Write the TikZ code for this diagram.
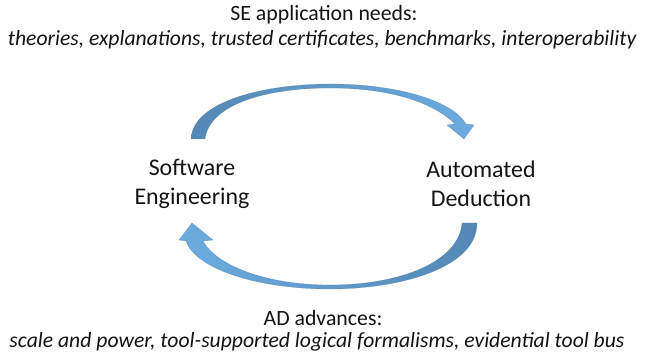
\documentclass[tikz,border=0pt]{standalone}
\usepackage{fontspec}
\setmainfont{Carlito}
\usepackage{tikz}
\usetikzlibrary{positioning}
\definecolor{ink}{RGB}{20,20,20}
\definecolor{flowdark}{RGB}{84,136,180}
\definecolor{flowlight}{RGB}{108,172,224}
\definecolor{flowedge}{RGB}{70,115,160}
\tikzset{
  field/.style={font=\fontsize{17}{20.5}\selectfont,text=ink,align=center,inner sep=0pt},
  head/.style={font=\fontsize{15.5}{18.5}\selectfont,text=ink,inner sep=0pt},
  items/.style={font=\fontsize{15.4}{18.5}\selectfont\itshape,text=ink,inner sep=0pt},
  flow/.style={draw=flowedge,line width=0.2pt,draw opacity=0.6},
}

\begin{document}
\begin{tikzpicture}[x=0.025cm,y=-0.025cm]
  \useasboundingbox (0,0) rectangle (651,353);

  \node[head]  (needshead) at (324,15) {SE application needs:};
  \node[items] (needs)     at (322,40) {theories, explanations, trusted certificates, benchmarks, interoperability};

  \node[field] (se) at (192,184) {Software\\Engineering};
  \node[field] (ad) at (481,184) {Automated\\Deduction};

  \node[head]  (advhead) at (323,318) {AD advances:};
  \node[items] (adv)     at (317,342) {scale and power, tool-supported logical formalisms, evidential tool bus};

  % ends of the two block arrows
  \coordinate (toptail)  at (191,139);
  \coordinate (toptip)   at (464,139);
  \coordinate (bottail)  at (477,223);
  \coordinate (bottip)   at (192,223);

  % upper arrow: se -> ad
  \shade[flow,left color=flowdark,right color=flowlight]
    (toptail) .. controls (193,100) and (268,84) .. (330,84)
      .. controls (395,84) and (452,100) .. (466,124)
      -- (474,125) -- (toptip) -- (447,125) -- (455,124)
      .. controls (432,101) and (387,88) .. (330,88)
      .. controls (262,88) and (209,106) .. (205,139) -- cycle;

  % lower arrow: ad -> se
  \shade[flow,left color=flowlight,right color=flowdark]
    (bottail) .. controls (477,268) and (400,289) .. (330,289)
      .. controls (255,289) and (195,268) .. (186,241)
      -- (179,240) -- (bottip) -- (213,240) -- (203,241)
      .. controls (216,265) and (265,285) .. (330,285)
      .. controls (400,285) and (459,262) .. (462,223) -- cycle;
\end{tikzpicture}
\end{document}
